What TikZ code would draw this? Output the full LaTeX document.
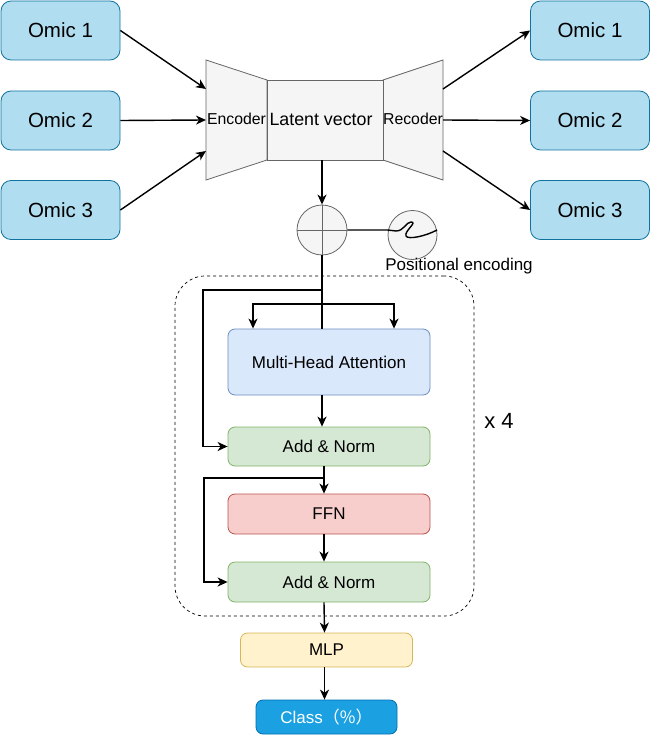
\documentclass[tikz,border=0pt]{standalone}
\usepackage{fontspec}
\setmainfont{Liberation Sans}
\newfontfamily\cjk{Noto Sans CJK SC}
\usetikzlibrary{arrows.meta}
\definecolor{omicfill}{HTML}{B1DDF0}
\definecolor{omicline}{HTML}{10739E}
\definecolor{greyfill}{HTML}{F5F5F5}
\definecolor{greyline}{HTML}{666666}
\definecolor{mhafill}{HTML}{DAE8FC}
\definecolor{mhaline}{HTML}{6C8EBF}
\definecolor{normfill}{HTML}{D5E8D4}
\definecolor{normline}{HTML}{82B366}
\definecolor{ffnfill}{HTML}{F8CECC}
\definecolor{ffnline}{HTML}{B85450}
\definecolor{mlpfill}{HTML}{FFF2CC}
\definecolor{mlpline}{HTML}{D6B656}
\definecolor{clsfill}{HTML}{1BA1E2}
\definecolor{clsline}{HTML}{006EAF}
\begin{document}
\begin{tikzpicture}[x=1pt,y=-1pt,
  omic/.style={draw=omicline,fill=omicfill,line width=.8pt,rounded corners=10pt,
    minimum width=119pt,minimum height=59pt,font=\fontsize{20.5}{24}\selectfont},
  grey/.style={draw=greyline,fill=greyfill,line width=.8pt},
  blk/.style={draw=#1line,fill=#1fill,line width=.8pt,rounded corners=7pt,
    minimum width=202pt,font=\fontsize{17}{20}\selectfont},
  arr/.style={-{Stealth[length=10pt,width=9pt,inset=3pt]},line width=1.4pt},
  ln/.style={line width=1.4pt}]
\useasboundingbox (0,0) rectangle (651,735);
\node[omic] (in1) at (60.5,30.5) {Omic 1};
\node[omic] (in2) at (60.5,120.5) {Omic 2};
\node[omic] (in3) at (60.5,210) {Omic 3};
\node[omic] (out1) at (590,30.5) {Omic 1};
\node[omic] (out2) at (590,120.5) {Omic 2};
\node[omic] (out3) at (590,210) {Omic 3};
\draw[grey] (206,60) -- (267,80) -- (267,160) -- (206,180) -- cycle;
\draw[grey] (383,80) -- (443,60) -- (443,180) -- (383,160) -- cycle;
\node[font=\fontsize{15.8}{18}\selectfont] (enc) at (236.5,119) {Encoder};
\node[font=\fontsize{15.8}{18}\selectfont] (rec) at (413,119) {Recoder};
\node[grey,minimum width=116pt,minimum height=80pt,font=\fontsize{17.8}{20}\selectfont] (lat) at (325,120) {};
\node[font=\fontsize{17.8}{20}\selectfont] (lattext) at (321,119.5) {Latent vector};
\coordinate (e1) at (206,89);
\coordinate (e2) at (206,120);
\coordinate (e3) at (206,151);
\coordinate (r1) at (443,89);
\coordinate (r2) at (443,120);
\coordinate (r3) at (443,151);
\draw[arr] (in1.east) -- (e1);
\draw[arr] (in2.east) -- (e2);
\draw[arr] (in3.east) -- (e3);
\draw[arr] (r1) -- (out1.west);
\draw[arr] (r2) -- (out2.west);
\draw[arr] (r3) -- (out3.west);
\node[grey,circle,minimum size=50pt,inner sep=0pt] (sum) at (322,230) {};
\draw[greyline,line width=.8pt] (sum.north) -- (sum.south) (sum.west) -- (sum.east);
\node[grey,circle,minimum size=49pt,inner sep=0pt] (pe) at (412.5,235) {};
\draw[arr] (lat.south -| sum.north) -- (sum.north);
\draw[ln] (sum.east) -- (sum.east -| pe.west) -- (396,231)
  .. controls (404,231) and (406,222) .. (411,222)
  .. controls (418,222) and (404,231) .. (406,236)
  .. controls (408,240) and (426,236) .. (437,230);
\node[font=\fontsize{17}{20}\selectfont] (petext) at (459,266) {Positional encoding};
\node[draw,dashed,line width=.7pt,rounded corners=30pt,minimum width=299pt,minimum height=340pt] (layer) at (324.5,446) {};
\node[font=\fontsize{22}{26}\selectfont] (rep) at (499,421) {x 4};
\node[blk=mha,minimum height=66pt] (mha) at (329,362) {Multi-Head Attention};
\node[blk=norm,minimum height=39pt] (an1) at (329,446.5) {Add \& Norm};
\node[blk=ffn,minimum height=40pt] (ffn) at (329,514) {FFN};
\node[blk=norm,minimum height=40pt] (an2) at (329,582) {Add \& Norm};
\node[blk=mlp,minimum width=172pt,minimum height=34pt] (mlp) at (326.5,650) {MLP};
\node[blk=cls,minimum width=141pt,minimum height=34pt,text=white] (cls) at (326.5,717) {Class\cjk{（\%）}};
\coordinate (split) at (322,290);
\coordinate (qk) at (322,304);
\coordinate (split2) at (324,478);
\draw[ln] (sum.south) -- (sum.south |- mha.north);
\draw[arr] (split) -- (203,290) |- (an1.west);
\draw[arr] (qk) -| ([xshift=-76pt]mha.north);
\draw[arr] (qk) -| ([xshift=65pt]mha.north);
\draw[arr] ([xshift=-7pt]mha.south) -- ([xshift=-7pt]an1.north);
\draw[arr] ([xshift=-5pt]an1.south) -- ([xshift=-5pt]ffn.north);
\draw[arr] (split2) -- (204,478) |- (an2.west);
\draw[arr] ([xshift=-5pt]ffn.south) -- ([xshift=-5pt]an2.north);
\draw[arr] ([xshift=-5pt]an2.south) -- ([xshift=-2pt]mlp.north);
\draw[arr] ([xshift=-2pt]mlp.south) -- ([xshift=-2pt]cls.north);
\end{tikzpicture}
\end{document}
